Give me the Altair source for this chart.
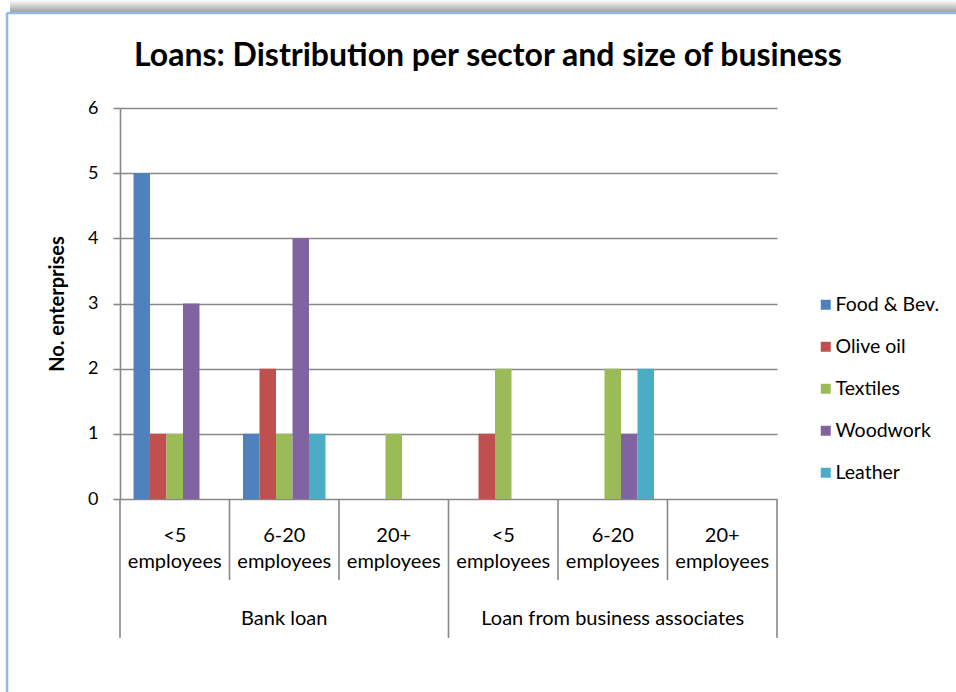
import altair as alt
import pandas as pd

# ---- data ----
title_text = "Loans: Distribution per sector and size of business"
loan_types = ["Bank loan", "Bank loan", "Bank loan",
              "Loan from business associates", "Loan from business associates", "Loan from business associates"]
size_top = ["<5", "6-20", "20+", "<5", "6-20", "20+"]
size_bottom = ["employees"] * 6
groups = ["g1", "g2", "g3", "g4", "g5", "g6"]
sectors = ["Food & Bev.", "Olive oil", "Textiles", "Woodwork", "Leather"]
food_bev = [5, 1, 0, 0, 0, 0]
olive_oil = [1, 2, 0, 1, 0, 0]
textiles = [1, 1, 1, 2, 2, 0]
woodwork = [3, 4, 0, 0, 1, 0]
leather = [0, 1, 0, 0, 2, 0]
colors = ["#4F81BD", "#C0504D", "#9BBB59", "#8064A2", "#4BACC6"]
y_ticks = [0, 1, 2, 3, 4, 5, 6]

series = [food_bev, olive_oil, textiles, woodwork, leather]
rows = []
for s, vals in zip(sectors, series):
    for g, v in zip(groups, vals):
        rows.append({"group": g, "sector": s, "value": v})
bars_df = pd.DataFrame(rows)

labels_df = pd.DataFrame({"group": groups, "top": size_top, "bottom": size_bottom,
                          "loan": loan_types})
sep_df = pd.DataFrame({"group": groups,
                       "kind": ["long", "short", "short", "long", "short", "short"]})
end_df = pd.DataFrame({"group": [groups[-1]]})
loan_df = pd.DataFrame({"group": [groups[1], groups[4]],
                        "loan": [loan_types[0], loan_types[3]]})
title_df = pd.DataFrame({"t": [title_text]})

W, H = 657, 391
FONT = "Lato"
GRID = "#888888"
LW = 1.6

xscale = alt.Scale(domain=groups, paddingInner=0, paddingOuter=0)

bars = alt.Chart(bars_df).mark_bar().encode(
    x=alt.X("group:N", scale=xscale, axis=None),
    xOffset=alt.XOffset("sector:N", scale=alt.Scale(domain=sectors, paddingInner=0, paddingOuter=0.82)),
    y=alt.Y("value:Q", scale=alt.Scale(domain=[0, 6], nice=False),
            axis=alt.Axis(values=y_ticks, grid=True, gridColor=GRID, gridWidth=LW,
                          domainColor=GRID, domainWidth=LW, tickColor=GRID, tickWidth=LW,
                          tickSize=7, labelPadding=15, labelFontSize=18, labelFont=FONT,
                          labelColor="#000000", title="No. enterprises", titleFont=FONT,
                          titleFontSize=20, titleFontWeight="bold", titleColor="#000000",
                          titlePadding=20)),
    color=alt.Color("sector:N", scale=alt.Scale(domain=sectors, range=colors),
                    legend=alt.Legend(title=None, orient="none", legendX=696, legendY=187,
                                      symbolType="square", symbolSize=100, symbolStrokeWidth=0,
                                      labelFont=FONT, labelFontSize=19.5, labelColor="#000000",
                                      rowPadding=21, labelOffset=0)),
)

sep_short = alt.Chart(sep_df).transform_filter("datum.kind == 'short'").mark_rule(
    color=GRID, strokeWidth=LW).encode(
    x=alt.X("group:N", scale=xscale, bandPosition=0, axis=None),
    y=alt.value(H), y2=alt.value(H + 81))
sep_long = alt.Chart(sep_df).transform_filter("datum.kind == 'long'").mark_rule(
    color=GRID, strokeWidth=LW).encode(
    x=alt.X("group:N", scale=xscale, bandPosition=0, axis=None),
    y=alt.value(H), y2=alt.value(H + 139))
sep_end = alt.Chart(end_df).mark_rule(color=GRID, strokeWidth=LW).encode(
    x=alt.X("group:N", scale=xscale, bandPosition=1, axis=None),
    y=alt.value(H), y2=alt.value(H + 139))

txt_top = alt.Chart(labels_df).mark_text(font=FONT, fontSize=20, color="#000000",
                                         baseline="middle").encode(
    x=alt.X("group:N", scale=xscale, axis=None), y=alt.value(H + 37), text="top:N")
txt_bottom = alt.Chart(labels_df).mark_text(font=FONT, fontSize=20, color="#000000",
                                            baseline="middle").encode(
    x=alt.X("group:N", scale=xscale, axis=None), y=alt.value(H + 63), text="bottom:N")
txt_loan = alt.Chart(loan_df).mark_text(font=FONT, fontSize=20, color="#000000",
                                        baseline="middle").encode(
    x=alt.X("group:N", scale=xscale, axis=None), y=alt.value(H + 120), text="loan:N")

title = alt.Chart(title_df).mark_text(font=FONT, fontSize=32, fontWeight="bold",
                                      color="#000000", baseline="alphabetic").encode(
    x=alt.value(368), y=alt.value(-42), text="t:N")

# chart-frame decoration (light blue border with top shadow)
frame_df = pd.DataFrame({"k": [0]})
shadow = alt.Chart(frame_df).mark_rect(
    fill=alt.LinearGradient(gradient="linear", x1=0, y1=0, x2=0, y2=1,
                            stops=[alt.GradientStop(offset=0, color="#FFFFFF"),
                                   alt.GradientStop(offset=1, color="#A0A0A0")])).encode(
    x=alt.value(-110), x2=alt.value(836), y=alt.value(-108), y2=alt.value(-96))
border_top = alt.Chart(frame_df).mark_rule(color="#95B8E6", strokeWidth=2.5).encode(
    x=alt.value(-113), x2=alt.value(836), y=alt.value(-95))
border_left = alt.Chart(frame_df).mark_rule(color="#95B8E6", strokeWidth=2.5).encode(
    x=alt.value(-113), y=alt.value(-95), y2=alt.value(584))

chart = alt.layer(shadow, border_top, border_left, title, bars, sep_short, sep_long, sep_end,
                  txt_top, txt_bottom, txt_loan).properties(
    width=W, height=H,
    padding={"left": 120, "top": 108, "right": 179, "bottom": 193},
    autosize=alt.AutoSizeParams(type="none"),
    background="#FFFFFF",
).configure_view(stroke=None)

chart.save("out.html", embed_options={"renderer": "svg", "actions": False})
